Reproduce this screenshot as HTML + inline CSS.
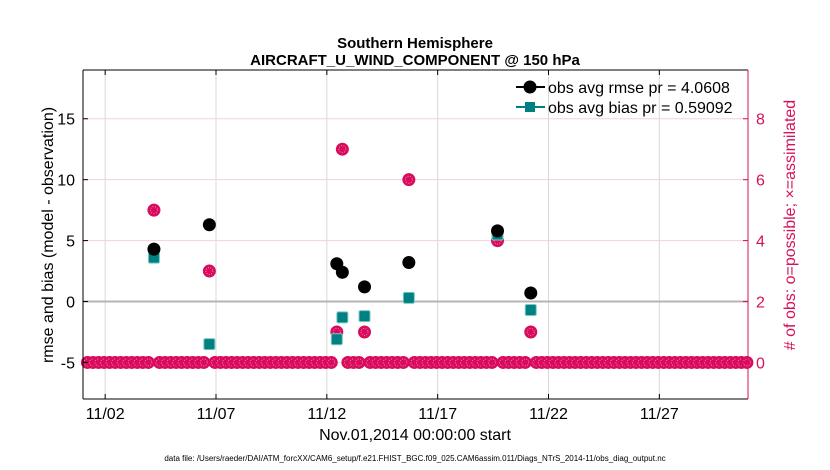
<!DOCTYPE html>
<html><head><meta charset="utf-8"><style>
body{margin:0;background:#fff;}
svg{display:block;font-family:"Liberation Sans",Arial,sans-serif;}
</style></head><body>
<svg id="chart" width="830" height="470">
<text x="415" y="48" text-anchor="middle" font-size="15" font-weight="bold">Southern Hemisphere</text>
<text x="415" y="65" text-anchor="middle" font-size="15" font-weight="bold">AIRCRAFT_U_WIND_COMPONENT @ 150 hPa</text>
<g id="grid"></g>
<g id="marks"></g>
<g id="axes"></g>
<text transform="translate(53,235) rotate(-90)" text-anchor="middle" font-size="16">rmse and bias (model - observation)</text>
<text transform="translate(795,225) rotate(-90)" text-anchor="middle" font-size="16" fill="#d6105a"># of obs: o=possible; ×=assimilated</text>
<text x="415" y="440" text-anchor="middle" font-size="16">Nov.01,2014 00:00:00 start</text>
<text x="415" y="461" text-anchor="middle" font-size="8">data file: /Users/raeder/DAI/ATM_forcXX/CAM6_setup/f.e21.FHIST_BGC.f09_025.CAM6assim.011/Diags_NTrS_2014-11/obs_diag_output.nc</text>
<g>
<line x1="516" y1="87" x2="545" y2="87" stroke="#000" stroke-width="2"/>
<circle cx="530" cy="87" r="6.5" fill="#000"/>
<text x="548" y="93" font-size="16">obs avg rmse pr = 4.0608</text>
<line x1="516" y1="107" x2="545" y2="107" stroke="#008080" stroke-width="2"/>
<rect x="525" y="102" width="10" height="10" fill="#008080"/>
<text x="548" y="113" font-size="16">obs avg bias pr = 0.59092</text>
</g>
</svg>
<script>
const days = [3.2, 5.7, 11.45, 11.7, 12.7, 14.7, 18.7, 20.2];
const rmse = [4.3, 6.3, 3.1, 2.4, 1.2, 3.2, 5.8, 0.7];
const bias = [3.6, -3.5, -3.1, -1.3, -1.2, 0.3, 5.5, -0.7];
const counts = [5, 3, 1, 7, 1, 6, 4, 1];
const xTicks = [1, 6, 11, 16, 21, 26];
const xTickLabels = ["11/02", "11/07", "11/12", "11/17", "11/22", "11/27"];
const yTicks = [-5, 0, 5, 10, 15];
const rTicks = [0, 2, 4, 6, 8];

const L = 83, R = 748, T = 70, B = 399;
const X = d => L + d / 30 * (R - L);
const Y = v => B - (v + 8) / 27 * (B - T);
const YR = c => Y(c * 2.5 - 5);
const NS = "http://www.w3.org/2000/svg";
function mk(tag, attrs, parent) {
  const e = document.createElementNS(NS, tag);
  for (const k in attrs) e.setAttribute(k, attrs[k]);
  parent.appendChild(e); return e;
}
const grid = document.getElementById('grid'), marks = document.getElementById('marks'), axes = document.getElementById('axes');
xTicks.forEach((d, i) => {
  const gl = mk('line', {x1: X(d), x2: X(d), y1: T, y2: B, stroke: '#d8d8d8', 'stroke-width': 1}, grid);
  
  
  mk('line', {x1: X(d), x2: X(d), y1: B, y2: B - 5, stroke: '#000'}, axes);
  mk('line', {x1: X(d), x2: X(d), y1: T, y2: T + 5, stroke: '#000'}, axes);
  const t = mk('text', {x: X(d), y: B + 20, 'text-anchor': 'middle', 'font-size': 16}, axes);
  t.textContent = xTickLabels[i];
  
  
});
yTicks.forEach(v => {
  const gl = mk('line', {x1: L, x2: R, y1: Y(v), y2: Y(v), stroke: v === 0 ? '#b4b4b4' : '#f6cfdc', 'stroke-width': v === 0 ? 2 : 1}, grid);
  
  
  mk('line', {x1: L, x2: L + 5, y1: Y(v), y2: Y(v), stroke: '#000'}, axes);
  const t = mk('text', {x: L - 8, y: Y(v) + 6, 'text-anchor': 'end', 'font-size': 16}, axes);
  t.textContent = v;
  
  
});
rTicks.forEach(c => {
  mk('line', {x1: R - 5, x2: R, y1: YR(c), y2: YR(c), stroke: '#d6105a'}, axes);
  const t = mk('text', {x: R + 8, y: YR(c) + 6, 'font-size': 16, fill: '#d6105a'}, axes);
  t.textContent = c;
  
  
});
mk('line', {x1: L, x2: L, y1: T, y2: B, stroke: '#000'}, axes);
mk('line', {x1: L, x2: R, y1: B, y2: B, stroke: '#000'}, axes);
mk('line', {x1: L, x2: R, y1: T, y2: T, stroke: '#000'}, axes);
mk('line', {x1: R, x2: R, y1: T, y2: B, stroke: '#d6105a'}, axes);

function countMark(d, c) {
  const g = mk('g', {}, marks);
  
  
  const cx = X(d), cy = YR(c);
  mk('circle', {cx, cy, r: 6.5, fill: '#d90b5c'}, g);
  mk('circle', {cx, cy, r: 3.5, fill: 'none', stroke: '#f3a0c0', 'stroke-width': 0.8, 'stroke-dasharray': '1 1.5'}, g);
}
for (let k = 0; k < 120; k++) {
  const d = 0.2 + 0.25 * k;
  if (days.some(x => Math.abs(x - d) < 0.1)) continue;
  countMark(d, 0);
}
days.forEach((d, i) => countMark(d, counts[i]));
days.forEach((d, i) => {
  const s = mk('rect', {x: X(d) - 5.5, y: Y(bias[i]) - 5.5, width: 11, height: 11, fill: '#008080', stroke: '#7cc8c8', 'stroke-width': 1, rx: 1.5}, marks);
  
  
});
days.forEach((d, i) => {
  const c = mk('circle', {cx: X(d), cy: Y(rmse[i]), r: 6.5, fill: '#000'}, marks);
  
  
});
</script>
</body></html>
